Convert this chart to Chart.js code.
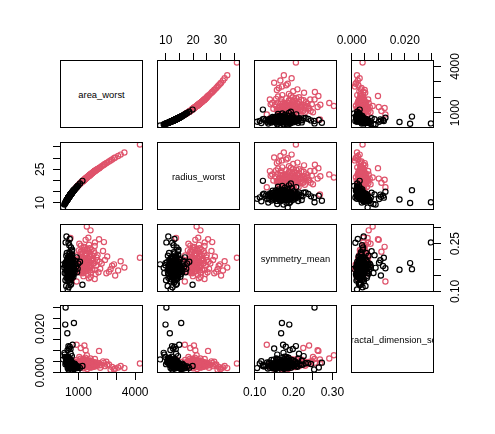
<!DOCTYPE html>
<html>
<head>
<meta charset="utf-8">
<script src="https://cdn.jsdelivr.net/npm/chart.js@4.4.1/dist/chart.umd.min.js"></script>
<style>
html, body { margin: 0; padding: 0; background: #fff; }
#wrap { position: relative; width: 495px; height: 434px; overflow: hidden; }
#wrap canvas { position: absolute; }
.diag {
    position: absolute; box-sizing: border-box; border: 1px solid #000;
    display: flex; align-items: center; justify-content: center;
    overflow: hidden; white-space: nowrap;
    font-family: "Liberation Sans", Arial, sans-serif; font-size: 9.4px; color: #000;
}
</style>
</head>
<body>
<div id="wrap"></div>
<script>
// pairs plot: area_worst, radius_worst, symmetry_mean, fractal_dimension_se (B black, M pink)
const diagLabels = ['area_worst', 'radius_worst', 'symmetry_mean', 'fractal_dimension_se'];

// benign
const areaB = [430, 185.2, 320, 300, 760, 410, 690, 1210, 927, 365,
    512, 598, 455, 642, 388, 710, 534, 478, 820, 355,
    587, 623, 441, 502, 675, 295, 565, 748, 419, 533,
    610, 472, 880, 392, 545, 658, 508, 726, 347, 590,
    487, 955, 432, 569, 636, 271, 521, 695, 458, 604,
    782, 403, 551, 496, 667, 370, 579, 845, 445, 528,
    615, 480, 732, 336, 560, 649, 515, 412, 990, 594,
    468, 703, 538, 384, 625, 499, 762, 428, 572, 257,
    683, 545, 462, 606, 520, 1080, 396, 587, 654, 490,
    718, 360, 558, 474, 633, 540, 802, 425, 590, 500,
    650, 310, 905, 350, 480, 615, 540, 470, 580,
    520, 610, 470, 555, 640, 495, 585, 450, 700, 530,
    415, 600, 485, 665, 545, 440, 575, 620, 505, 735,
    460, 565, 395, 650, 525, 480, 590, 425, 680, 510,
    550, 605, 455, 720, 535, 380, 630, 490, 570, 445,
    660, 515, 595, 475, 545, 620, 435, 580, 690, 500,
    405, 560, 645, 465, 540, 755, 420, 600, 525, 485];
const radiusB = [11.78, 7.93, 10.24, 9.92, 15.66, 11.50, 14.92, 19.82, 17.24, 10.94,
    12.85, 13.89, 12.11, 14.39, 11.28, 15.13, 13.12, 12.42, 16.21, 10.79,
    13.76, 14.18, 11.93, 12.73, 14.76, 9.88, 13.50, 15.53, 11.63, 13.11,
    14.03, 12.34, 16.79, 11.34, 13.26, 14.57, 12.80, 15.30, 10.67, 13.80,
    12.53, 17.50, 11.81, 13.55, 14.32, 9.50, 12.96, 14.97, 12.15, 13.96,
    15.88, 11.40, 13.33, 12.65, 14.67, 11.01, 13.67, 16.46, 11.98, 13.05,
    14.08, 12.44, 15.37, 10.50, 13.44, 14.47, 12.89, 11.53, 17.81, 13.84,
    12.29, 15.06, 13.17, 11.22, 14.20, 12.69, 15.68, 11.75, 13.58, 9.26,
    14.84, 13.24, 12.21, 13.98, 12.95, 18.61, 11.39, 13.74, 14.52, 12.57,
    15.22, 10.86, 13.42, 12.37, 14.29, 13.20, 16.03, 11.71, 13.78, 12.70,
    14.48, 10.12, 17.03, 10.71, 12.46, 14.06, 13.22, 12.31, 13.68,
    12.95, 14.03, 12.31, 13.38, 14.37, 12.64, 13.74, 12.05, 15.03, 13.08,
    11.57, 13.91, 12.51, 14.65, 13.26, 11.91, 13.62, 14.14, 12.76, 15.40,
    12.18, 13.50, 11.29, 14.48, 13.01, 12.44, 13.80, 11.71, 14.81, 12.83,
    13.32, 13.97, 12.11, 15.24, 13.14, 11.13, 14.26, 12.57, 13.56, 11.98,
    14.59, 12.89, 13.85, 12.38, 13.26, 14.14, 11.85, 13.68, 14.92, 12.70,
    11.43, 13.44, 14.42, 12.25, 13.20, 15.61, 11.64, 13.91, 13.01, 12.51];
const symB = [0.106, 0.185, 0.254, 0.189, 0.170, 0.168, 0.173, 0.121, 0.160, 0.273,
    0.181, 0.163, 0.192, 0.158, 0.176, 0.201, 0.147, 0.169, 0.185, 0.212,
    0.175, 0.139, 0.158, 0.196, 0.167, 0.182, 0.208, 0.154, 0.145, 0.172,
    0.189, 0.161, 0.178, 0.199, 0.134, 0.215, 0.176, 0.162, 0.166, 0.152,
    0.183, 0.171, 0.204, 0.186, 0.148, 0.158, 0.223, 0.179, 0.137, 0.194,
    0.168, 0.187, 0.164, 0.155, 0.231, 0.143, 0.173, 0.196, 0.178, 0.128,
    0.181, 0.210, 0.146, 0.192, 0.159, 0.170, 0.245, 0.163, 0.188, 0.141,
    0.177, 0.199, 0.152, 0.221, 0.166, 0.190, 0.175, 0.132, 0.205, 0.174,
    0.157, 0.184, 0.149, 0.238, 0.168, 0.193, 0.180, 0.121, 0.186, 0.160,
    0.171, 0.156, 0.197, 0.253, 0.144, 0.265, 0.162, 0.190, 0.214, 0.150,
    0.226, 0.135, 0.207, 0.117, 0.113, 0.124, 0.180, 0.206, 0.198,
    0.172, 0.178, 0.165, 0.187, 0.169, 0.154, 0.193, 0.180, 0.161, 0.200,
    0.171, 0.157, 0.184, 0.176, 0.166, 0.195, 0.150, 0.185, 0.175, 0.180,
    0.162, 0.203, 0.183, 0.148, 0.188, 0.145, 0.170, 0.158, 0.191, 0.163,
    0.177, 0.209, 0.173, 0.167, 0.153, 0.170, 0.182, 0.196, 0.160, 0.186,
    0.174, 0.140, 0.198, 0.178, 0.219, 0.164, 0.151, 0.181, 0.159, 0.168,
    0.190, 0.174, 0.195, 0.156, 0.182, 0.172, 0.164, 0.188, 0.147, 0.202];
const fdB = [0.0020, 0.0060, 0.02984, 0.0220, 0.0227, 0.0180, 0.0127, 0.0030, 0.0020, 0.0045,
    0.0033, 0.0028, 0.0041, 0.0025, 0.0052, 0.0031, 0.0022, 0.0047, 0.0019, 0.0063,
    0.0036, 0.0021, 0.0058, 0.0029, 0.0034, 0.0071, 0.0043, 0.0016, 0.0039, 0.0026,
    0.0049, 0.0031, 0.0022, 0.0055, 0.0018, 0.0038, 0.0061, 0.0027, 0.0044, 0.0033,
    0.0024, 0.0009, 0.0050, 0.0041, 0.0029, 0.0082, 0.0035, 0.0020, 0.0046, 0.0032,
    0.0025, 0.0068, 0.0037, 0.0028, 0.0042, 0.0057, 0.0023, 0.0034, 0.0040, 0.0030,
    0.0053, 0.0026, 0.0019, 0.0048, 0.0060, 0.0036, 0.0039, 0.0033, 0.0027, 0.0044,
    0.0072, 0.0030, 0.0021, 0.0054, 0.0028, 0.0035, 0.0017, 0.0046, 0.0038, 0.0090,
    0.0024, 0.0031, 0.0059, 0.0043, 0.0026, 0.0021, 0.0051, 0.0034, 0.0045, 0.0029,
    0.0023, 0.0064, 0.0039, 0.0014, 0.0032, 0.0023, 0.0040, 0.0103, 0.0086, 0.0110,
    0.0075, 0.0038, 0.0029, 0.0052, 0.0041, 0.0027, 0.0118, 0.0121, 0.0108,
    0.0031, 0.0027, 0.0039, 0.0024, 0.0035, 0.0044, 0.0030, 0.0048, 0.0022, 0.0036,
    0.0053, 0.0029, 0.0033, 0.0026, 0.0041, 0.0057, 0.0021, 0.0038, 0.0046, 0.0024,
    0.0035, 0.0032, 0.0062, 0.0028, 0.0043, 0.0037, 0.0034, 0.0049, 0.0030, 0.0026,
    0.0055, 0.0041, 0.0029, 0.0036, 0.0032, 0.0066, 0.0023, 0.0040, 0.0045, 0.0034,
    0.0039, 0.0030, 0.0027, 0.0052, 0.0035, 0.0033, 0.0042, 0.0025, 0.0040, 0.0038,
    0.0047, 0.0020, 0.0044, 0.0031, 0.0037, 0.0031, 0.0058, 0.0049, 0.0024, 0.0033];

// malignant
const areaM = [4254, 3432, 3234, 2944, 2782, 2615, 2477, 2403, 2348, 2090,
    1870, 1860, 1550, 1637, 1443, 1314, 900, 1379, 1120, 1937,
    1540, 1210, 1750, 1085, 1345, 2010, 980, 1620, 1405, 1150,
    1880, 1290, 2230, 1020, 1480, 1705, 870, 1265, 1575, 2150,
    1110, 1390, 1820, 940, 1665, 1235, 1995, 1060, 1450, 780,
    1330, 1785, 1180, 1510, 2300, 1000, 1360, 1600, 578, 1125,
    1905, 1420, 910, 1560, 2060, 1275, 1690, 835, 1195, 1465,
    2520, 1045, 1310, 1860, 700, 1640, 990, 1525, 2700, 1240,
    1380, 650, 2880, 3100, 508,
    1250, 1480, 1120, 1690, 1340, 1560, 1050, 1830, 1410, 1200,
    1610, 1300, 1730, 1090, 1520, 1390, 1960, 1160, 1440, 1270,
    1650, 1020, 1370, 1580, 1230, 1850, 1470, 1100, 1320, 1540,
    960, 1720, 1280, 1420, 2120, 1190, 1500, 1350, 1620, 1070,
    1780, 1260, 1450, 1140, 1590];
const radiusM = [36.04, 32.50, 31.54, 30.24, 29.39, 28.50, 27.74, 27.32, 27.00, 25.48,
    24.25, 24.18, 22.08, 22.69, 21.30, 20.33, 16.98, 20.82, 18.95, 24.68,
    22.01, 19.51, 23.46, 18.65, 20.57, 24.98, 17.72, 22.57, 21.02, 19.20,
    24.31, 20.14, 26.32, 18.08, 21.57, 23.16, 16.70, 19.94, 22.26, 25.84,
    18.86, 20.91, 23.92, 17.36, 22.88, 19.71, 25.05, 18.43, 21.35, 15.86,
    20.45, 23.69, 19.45, 21.79, 26.73, 17.90, 20.68, 22.43, 13.77, 18.99,
    24.48, 21.13, 17.08, 22.15, 25.29, 20.02, 23.05, 16.41, 19.57, 21.46,
    27.97, 18.30, 20.30, 24.20, 15.03, 22.71, 17.81, 21.90, 28.96, 19.75,
    20.85, 14.53, 29.91, 30.93, 12.84,
    19.83, 21.57, 18.95, 23.05, 20.53, 22.15, 18.34, 23.99, 21.06, 19.43,
    22.50, 20.22, 23.32, 18.69, 21.86, 20.91, 24.83, 19.28, 21.28, 19.98,
    22.78, 18.08, 20.76, 22.29, 19.67, 24.12, 21.50, 18.78, 20.37, 22.01,
    17.54, 23.26, 20.06, 21.13, 25.66, 19.53, 21.72, 20.60, 22.57, 18.52,
    23.66, 19.91, 21.35, 19.12, 22.36];
const symM = [0.206, 0.175, 0.195, 0.150, 0.181, 0.162, 0.157, 0.199, 0.255, 0.264,
    0.254, 0.139, 0.141, 0.292, 0.304, 0.240, 0.131, 0.262, 0.225, 0.181,
    0.193, 0.172, 0.205, 0.186, 0.163, 0.214, 0.197, 0.177, 0.221, 0.158,
    0.168, 0.203, 0.188, 0.229, 0.184, 0.196, 0.175, 0.148, 0.212, 0.171,
    0.209, 0.176, 0.226, 0.165, 0.159, 0.191, 0.198, 0.181, 0.234, 0.203,
    0.169, 0.188, 0.218, 0.152, 0.227, 0.192, 0.185, 0.166, 0.268, 0.244,
    0.155, 0.200, 0.213, 0.247, 0.160, 0.179, 0.232, 0.187, 0.162, 0.174,
    0.210, 0.250, 0.196, 0.243, 0.178, 0.145, 0.161, 0.269, 0.170, 0.157,
    0.219, 0.196, 0.185, 0.166, 0.181,
    0.190, 0.205, 0.183, 0.197, 0.215, 0.178, 0.201, 0.189, 0.172, 0.224,
    0.209, 0.186, 0.168, 0.194, 0.228, 0.199, 0.207, 0.177, 0.192, 0.238,
    0.183, 0.170, 0.211, 0.195, 0.167, 0.220, 0.180, 0.216, 0.176, 0.202,
    0.189, 0.214, 0.196, 0.163, 0.193, 0.206, 0.187, 0.230, 0.173, 0.198,
    0.201, 0.182, 0.217, 0.164, 0.236];
const fdM = [0.0041, 0.0020, 0.0030, 0.0018, 0.0025, 0.0037, 0.0049, 0.0029, 0.0044, 0.0099,
    0.0062, 0.0034, 0.0027, 0.0064, 0.0079, 0.0124, 0.0127, 0.0102, 0.0112, 0.0039,
    0.0047, 0.0031, 0.0025, 0.0054, 0.0036, 0.0042, 0.0028, 0.0022, 0.0058, 0.0044,
    0.0030, 0.0038, 0.0034, 0.0049, 0.0027, 0.0052, 0.0040, 0.0033, 0.0041, 0.0021,
    0.0063, 0.0045, 0.0036, 0.0029, 0.0024, 0.0055, 0.0032, 0.0037, 0.0043, 0.0048,
    0.0026, 0.0046, 0.0034, 0.0039, 0.0051, 0.0023, 0.0068, 0.0031, 0.0060, 0.0040,
    0.0028, 0.0035, 0.0057, 0.0053, 0.0044, 0.0019, 0.0038, 0.0033, 0.0050, 0.0016,
    0.0035, 0.0071, 0.0029, 0.0047, 0.0039, 0.0032, 0.0045, 0.0045, 0.0012, 0.0061,
    0.0054, 0.0030, 0.0015, 0.0023, 0.0042,
    0.0035, 0.0041, 0.0029, 0.0048, 0.0032, 0.0038, 0.0044, 0.0027, 0.0053, 0.0036,
    0.0030, 0.0046, 0.0033, 0.0039, 0.0042, 0.0025, 0.0040, 0.0050, 0.0034, 0.0048,
    0.0045, 0.0031, 0.0057, 0.0026, 0.0043, 0.0037, 0.0030, 0.0052, 0.0040, 0.0035,
    0.0047, 0.0028, 0.0061, 0.0037, 0.0033, 0.0041, 0.0049, 0.0031, 0.0055, 0.0034,
    0.0043, 0.0028, 0.0046, 0.0036, 0.0039];

// axis ticks and which labels R kept (H = horizontal axis, V = vertical axis)
const areaTicks = [1000, 2000, 3000, 4000];
const areaLabelsH = ['1000', '', '', '4000'];
const areaLabelsV = ['1000', '', '', '4000'];
const radiusTicks = [10, 15, 20, 25, 30, 35];
const radiusLabelsH = ['10', '', '20', '', '30', ''];
const radiusLabelsV = ['10', '', '', '25', '', ''];
const symTicks = [0.10, 0.15, 0.20, 0.25, 0.30];
const symLabelsH = ['0.10', '', '0.20', '', '0.30'];
const symLabelsV = ['0.10', '', '', '0.25', ''];
const fdTicks = [0.000, 0.005, 0.010, 0.015, 0.020, 0.025, 0.030];
const fdLabelsH = ['0.000', '', '', '', '0.020', '', ''];
const fdLabelsV = ['0.000', '', '', '', '0.020', '', ''];

const colB = '#000000';
const colM = '#DF536B';

// layout
const lefts = [60, 157, 254, 351];
const tops = [60, 142, 224, 305];
const W = 83, H = 68, M = 42, TL = 7;
const FONT = "'Liberation Sans', Arial, sans-serif";

const variables = [
    { B: areaB, M: areaM, ticks: areaTicks, lh: areaLabelsH, lv: areaLabelsV },
    { B: radiusB, M: radiusM, ticks: radiusTicks, lh: radiusLabelsH, lv: radiusLabelsV },
    { B: symB, M: symM, ticks: symTicks, lh: symLabelsH, lv: symLabelsV },
    { B: fdB, M: fdM, ticks: fdTicks, lh: fdLabelsH, lv: fdLabelsV }
];
// R extends the data range by 4% each side
variables.forEach(v => {
    const all = v.B.concat(v.M);
    const lo = Math.min(...all), hi = Math.max(...all);
    v.min = lo - 0.04 * (hi - lo);
    v.max = hi + 0.04 * (hi - lo);
});

const mctx = document.createElement('canvas').getContext('2d');
mctx.font = '12px ' + FONT;
function widest(labels) { return Math.max(...labels.map(l => mctx.measureText(l).width)); }

const boxPlugin = {
    id: 'panelBox',
    afterDraw(chart) {
        const a = chart.chartArea, c = chart.ctx;
        c.save();
        c.strokeStyle = '#000';
        c.lineWidth = 1;
        c.strokeRect(a.left + 0.5, a.top + 0.5, a.right - a.left - 1, a.bottom - a.top - 1);
        c.restore();
    }
};

function axisOpts(v, pos, show, horiz) {
    const labels = horiz ? v.lh : v.lv;
    let pad = 5.5;
    if (!horiz) pad = (pos === 'left' ? 19.3 : 21.7) - TL - widest(labels) / 2;
    return {
        type: 'linear', position: pos, min: v.min, max: v.max,
        border: { display: false },
        grid: { display: show, drawOnChartArea: false, drawTicks: true, tickLength: TL, color: '#000', lineWidth: 1 },
        ticks: {
            display: show, autoSkip: false, color: '#000', padding: pad,
            font: { family: FONT, size: 12 },
            minRotation: horiz ? 0 : 90, maxRotation: horiz ? 0 : 90,
            crossAlign: horiz ? 'near' : 'center',
            callback: (val, idx) => labels[idx]
        },
        afterBuildTicks: s => { s.ticks = v.ticks.map(t => ({ value: t })); },
        afterFit: s => {
            if (horiz) s.height = M; else s.width = M;
            s.paddingLeft = s.paddingRight = s.paddingTop = s.paddingBottom = 0;
        }
    };
}

function pts(xs, ys) { return xs.map((x, k) => ({ x: x, y: ys[k] })); }

function dataset(data, color) {
    return {
        data: data, showLine: false,
        pointRadius: 2.6, pointHoverRadius: 2.6, pointBorderWidth: 1.2,
        pointBackgroundColor: 'rgba(0,0,0,0)', pointBorderColor: color
    };
}

const wrap = document.getElementById('wrap');

function makePanel(i, j) {
    const cv = document.createElement('canvas');
    cv.width = W + 2 * M;
    cv.height = H + 2 * M;
    cv.style.left = (lefts[j] - M) + 'px';
    cv.style.top = (tops[i] - M) + 'px';
    wrap.appendChild(cv);
    const xv = variables[j], yv = variables[i];
    const xPos = i === 0 ? 'top' : 'bottom';
    const yPos = j === 3 ? 'right' : 'left';
    const showX = (i === 0 && j % 2 === 1) || (i === 3 && j % 2 === 0);
    const showY = (j === 0 && i % 2 === 1) || (j === 3 && i % 2 === 0);
    new Chart(cv, {
        type: 'scatter',
        data: { datasets: [dataset(pts(xv.B, yv.B), colB), dataset(pts(xv.M, yv.M), colM)] },
        options: {
            responsive: false, animation: false, events: [],
            layout: {
                autoPadding: false,
                padding: {
                    left: yPos === 'left' ? 0 : M, right: yPos === 'right' ? 0 : M,
                    top: xPos === 'top' ? 0 : M, bottom: xPos === 'bottom' ? 0 : M
                }
            },
            plugins: { legend: { display: false }, tooltip: { enabled: false } },
            scales: { x: axisOpts(xv, xPos, showX, true), y: axisOpts(yv, yPos, showY, false) }
        },
        plugins: [boxPlugin]
    });
}

for (let i = 0; i < 4; i++) {
    for (let j = 0; j < 4; j++) {
        if (i === j) {
            const d = document.createElement('div');
            d.className = 'diag';
            d.style.left = lefts[j] + 'px';
            d.style.top = tops[i] + 'px';
            d.style.width = W + 'px';
            d.style.height = H + 'px';
            d.textContent = diagLabels[i];
            wrap.appendChild(d);
        } else {
            makePanel(i, j);
        }
    }
}
</script>
</body>
</html>
